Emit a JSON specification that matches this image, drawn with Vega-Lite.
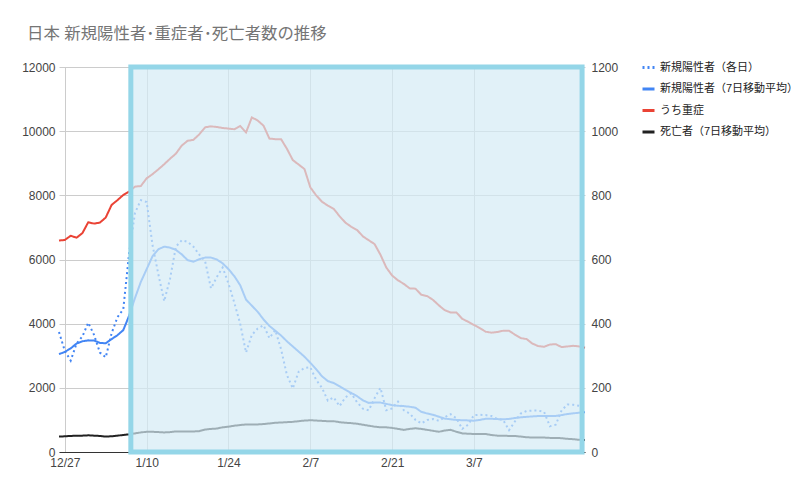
{
  "$schema": "https://vega.github.io/schema/vega-lite/v6.json",
  "width": 526,
  "height": 385,
  "autosize": {"type": "none"},
  "padding": {"left": 59, "top": 67, "right": 215, "bottom": 42},
  "background": "white",
  "title": {"text": "日本 新規陽性者･重症者･死亡者数の推移", "anchor": "start", "frame": "group", "dx": -32, "offset": 18, "fontSize": 16.4, "fontWeight": "normal", "color": "#757575"},
  "datasets": {
    "main": [
      {"date":"2020/12/26","daily":3740,"avg":3050,"severe":659,"deaths":48},
      {"date":"2020/12/27","daily":3150,"avg":3120,"severe":661,"deaths":49},
      {"date":"2020/12/28","daily":2850,"avg":3230,"severe":674,"deaths":50},
      {"date":"2020/12/29","daily":3380,"avg":3380,"severe":668,"deaths":51},
      {"date":"2020/12/30","daily":3600,"avg":3450,"severe":682,"deaths":51},
      {"date":"2020/12/31","daily":4030,"avg":3480,"severe":716,"deaths":52},
      {"date":"2021/01/01","daily":3650,"avg":3475,"severe":712,"deaths":51},
      {"date":"2021/01/02","daily":3100,"avg":3400,"severe":715,"deaths":50},
      {"date":"2021/01/03","daily":2950,"avg":3390,"severe":731,"deaths":48},
      {"date":"2021/01/04","daily":3700,"avg":3520,"severe":770,"deaths":49},
      {"date":"2021/01/05","daily":4200,"avg":3640,"severe":785,"deaths":51},
      {"date":"2021/01/06","daily":4450,"avg":3800,"severe":801,"deaths":53},
      {"date":"2021/01/07","daily":6200,"avg":4250,"severe":812,"deaths":55},
      {"date":"2021/01/08","daily":7450,"avg":4800,"severe":827,"deaths":58},
      {"date":"2021/01/09","daily":7850,"avg":5300,"severe":829,"deaths":61},
      {"date":"2021/01/10","daily":7790,"avg":5700,"severe":853,"deaths":63},
      {"date":"2021/01/11","daily":6450,"avg":6100,"severe":866,"deaths":63},
      {"date":"2021/01/12","daily":5540,"avg":6320,"severe":881,"deaths":62},
      {"date":"2021/01/13","daily":4700,"avg":6400,"severe":897,"deaths":61},
      {"date":"2021/01/14","daily":5400,"avg":6370,"severe":914,"deaths":62},
      {"date":"2021/01/15","daily":6400,"avg":6300,"severe":930,"deaths":64},
      {"date":"2021/01/16","daily":6600,"avg":6160,"severe":955,"deaths":64},
      {"date":"2021/01/17","daily":6550,"avg":5980,"severe":970,"deaths":64},
      {"date":"2021/01/18","daily":6400,"avg":5930,"severe":973,"deaths":64},
      {"date":"2021/01/19","daily":6150,"avg":6010,"severe":990,"deaths":65},
      {"date":"2021/01/20","daily":5950,"avg":6060,"severe":1012,"deaths":70},
      {"date":"2021/01/21","daily":5100,"avg":6060,"severe":1015,"deaths":72},
      {"date":"2021/01/22","daily":5450,"avg":6000,"severe":1013,"deaths":73},
      {"date":"2021/01/23","daily":5750,"avg":5880,"severe":1010,"deaths":77},
      {"date":"2021/01/24","daily":5250,"avg":5700,"severe":1008,"deaths":79},
      {"date":"2021/01/25","daily":4650,"avg":5480,"severe":1006,"deaths":82},
      {"date":"2021/01/26","daily":4000,"avg":5200,"severe":1016,"deaths":84},
      {"date":"2021/01/27","daily":3100,"avg":4750,"severe":996,"deaths":86},
      {"date":"2021/01/28","daily":3650,"avg":4560,"severe":1043,"deaths":86},
      {"date":"2021/01/29","daily":3850,"avg":4370,"severe":1033,"deaths":86},
      {"date":"2021/01/30","daily":3950,"avg":4130,"severe":1017,"deaths":87},
      {"date":"2021/01/31","daily":3550,"avg":3930,"severe":977,"deaths":89},
      {"date":"2021/02/01","daily":3800,"avg":3780,"severe":975,"deaths":91},
      {"date":"2021/02/02","daily":3200,"avg":3630,"severe":975,"deaths":92},
      {"date":"2021/02/03","daily":2400,"avg":3450,"severe":945,"deaths":93},
      {"date":"2021/02/04","daily":1980,"avg":3290,"severe":910,"deaths":94},
      {"date":"2021/02/05","daily":2500,"avg":3130,"severe":896,"deaths":96},
      {"date":"2021/02/06","daily":2620,"avg":2970,"severe":882,"deaths":98},
      {"date":"2021/02/07","daily":2640,"avg":2780,"severe":825,"deaths":99},
      {"date":"2021/02/08","daily":2250,"avg":2580,"severe":800,"deaths":98},
      {"date":"2021/02/09","daily":2000,"avg":2360,"severe":780,"deaths":97},
      {"date":"2021/02/10","daily":1600,"avg":2210,"severe":768,"deaths":96},
      {"date":"2021/02/11","daily":1700,"avg":2150,"severe":758,"deaths":96},
      {"date":"2021/02/12","daily":1430,"avg":2050,"severe":735,"deaths":93},
      {"date":"2021/02/13","daily":1700,"avg":1940,"severe":715,"deaths":91},
      {"date":"2021/02/14","daily":1830,"avg":1840,"severe":702,"deaths":90},
      {"date":"2021/02/15","daily":1550,"avg":1740,"severe":692,"deaths":88},
      {"date":"2021/02/16","daily":1350,"avg":1610,"severe":672,"deaths":85},
      {"date":"2021/02/17","daily":1300,"avg":1530,"severe":660,"deaths":82},
      {"date":"2021/02/18","daily":1680,"avg":1540,"severe":648,"deaths":79},
      {"date":"2021/02/19","daily":2000,"avg":1540,"severe":615,"deaths":77},
      {"date":"2021/02/20","daily":1300,"avg":1500,"severe":575,"deaths":77},
      {"date":"2021/02/21","daily":1360,"avg":1460,"severe":550,"deaths":75},
      {"date":"2021/02/22","daily":1570,"avg":1440,"severe":535,"deaths":72},
      {"date":"2021/02/23","daily":1300,"avg":1430,"severe":524,"deaths":69},
      {"date":"2021/02/24","daily":1200,"avg":1410,"severe":510,"deaths":72},
      {"date":"2021/02/25","daily":1000,"avg":1380,"severe":509,"deaths":74},
      {"date":"2021/02/26","daily":890,"avg":1250,"severe":490,"deaths":72},
      {"date":"2021/02/27","daily":1000,"avg":1200,"severe":486,"deaths":69},
      {"date":"2021/02/28","daily":1030,"avg":1160,"severe":474,"deaths":66},
      {"date":"2021/03/01","daily":970,"avg":1100,"severe":457,"deaths":63},
      {"date":"2021/03/02","daily":1080,"avg":1040,"severe":442,"deaths":67},
      {"date":"2021/03/03","daily":1180,"avg":1020,"severe":435,"deaths":69},
      {"date":"2021/03/04","daily":1050,"avg":1000,"severe":435,"deaths":63},
      {"date":"2021/03/05","daily":720,"avg":990,"severe":415,"deaths":58},
      {"date":"2021/03/06","daily":850,"avg":985,"severe":406,"deaths":57},
      {"date":"2021/03/07","daily":1150,"avg":975,"severe":396,"deaths":56},
      {"date":"2021/03/08","daily":1160,"avg":1000,"severe":386,"deaths":56},
      {"date":"2021/03/09","daily":1150,"avg":1035,"severe":375,"deaths":56},
      {"date":"2021/03/10","daily":1120,"avg":1035,"severe":372,"deaths":53},
      {"date":"2021/03/11","daily":1030,"avg":1025,"severe":374,"deaths":51},
      {"date":"2021/03/12","daily":1000,"avg":1020,"severe":378,"deaths":51},
      {"date":"2021/03/13","daily":680,"avg":1030,"severe":378,"deaths":50},
      {"date":"2021/03/14","daily":950,"avg":1060,"severe":366,"deaths":50},
      {"date":"2021/03/15","daily":1200,"avg":1080,"severe":355,"deaths":48},
      {"date":"2021/03/16","daily":1280,"avg":1095,"severe":352,"deaths":46},
      {"date":"2021/03/17","daily":1290,"avg":1110,"severe":338,"deaths":45},
      {"date":"2021/03/18","daily":1290,"avg":1120,"severe":330,"deaths":45},
      {"date":"2021/03/19","daily":1250,"avg":1120,"severe":328,"deaths":45},
      {"date":"2021/03/20","daily":800,"avg":1120,"severe":335,"deaths":44},
      {"date":"2021/03/21","daily":850,"avg":1125,"severe":336,"deaths":44},
      {"date":"2021/03/22","daily":1300,"avg":1150,"severe":327,"deaths":43},
      {"date":"2021/03/23","daily":1480,"avg":1185,"severe":329,"deaths":41},
      {"date":"2021/03/24","daily":1470,"avg":1205,"severe":331,"deaths":40},
      {"date":"2021/03/25","daily":1440,"avg":1225,"severe":329,"deaths":38},
      {"date":"2021/03/26","daily":1360,"avg":1240,"severe":325,"deaths":37}
    ],
    "box": [
      {"start": "2021/01/07 07:00", "end": "2021/03/25 12:00", "top": 12000, "bottom": 0}
    ]
  },
  "layer": [
    {
      "data": {"name": "main"},
      "transform": [{"fold": ["daily", "avg"], "as": ["series", "value"]}],
      "mark": {"type": "line", "strokeWidth": 2},
      "encoding": {
        "x": {
          "field": "date", "type": "temporal",
          "scale": {"domain": [{"year": 2020, "month": 12, "date": 26}, {"year": 2021, "month": 3, "date": 26}]},
          "axis": {
            "values": [{"year": 2020, "month": 12, "date": 27}, {"year": 2021, "month": 1, "date": 10}, {"year": 2021, "month": 1, "date": 24}, {"year": 2021, "month": 2, "date": 7}, {"year": 2021, "month": 2, "date": 21}, {"year": 2021, "month": 3, "date": 7}],
            "format": "%-m/%-d", "grid": true, "domainColor": "#333333", "labelPadding": 5, "labelFlush": false
          }
        },
        "y": {
          "field": "value", "type": "quantitative",
          "scale": {"domain": [0, 12000]},
          "axis": {"orient": "left", "values": [0, 2000, 4000, 6000, 8000, 10000, 12000], "format": "d", "grid": true, "domain": false, "labelPadding": 4}
        },
        "color": {
          "field": "series", "type": "nominal",
          "scale": {"domain": ["daily", "avg", "severe", "deaths"], "range": ["#4285f4", "#4285f4", "#ea4335", "#212121"]},
          "legend": {
            "title": null,
            "labelExpr": "datum.label == 'daily' ? '新規陽性者（各日）' : datum.label == 'avg' ? '新規陽性者（7日移動平均）' : datum.label == 'severe' ? 'うち重症' : '死亡者（7日移動平均）'"
          }
        },
        "strokeDash": {
          "field": "series", "type": "nominal",
          "scale": {"domain": ["daily", "avg", "severe", "deaths"], "range": [[2, 3], [1, 0], [1, 0], [1, 0]]},
          "legend": {
            "title": null,
            "labelExpr": "datum.label == 'daily' ? '新規陽性者（各日）' : datum.label == 'avg' ? '新規陽性者（7日移動平均）' : datum.label == 'severe' ? 'うち重症' : '死亡者（7日移動平均）'"
          }
        }
      }
    },
    {
      "data": {"name": "main"},
      "transform": [{"fold": ["severe", "deaths"], "as": ["series", "value"]}],
      "mark": {"type": "line", "strokeWidth": 2},
      "encoding": {
        "x": {"field": "date", "type": "temporal"},
        "y": {
          "field": "value", "type": "quantitative",
          "scale": {"domain": [0, 1200]},
          "axis": {"orient": "right", "values": [0, 200, 400, 600, 800, 1000, 1200], "format": "d", "grid": false, "domain": false, "labelPadding": 6}
        },
        "color": {"field": "series", "type": "nominal"},
        "strokeDash": {"field": "series", "type": "nominal"}
      }
    },
    {
      "data": {"name": "box"},
      "mark": {"type": "rect", "fill": "#d4ebf5", "fillOpacity": 0.7, "stroke": "#94d6e8", "strokeWidth": 5},
      "encoding": {
        "x": {"field": "start", "type": "temporal"},
        "x2": {"field": "end"},
        "y": {"field": "top", "type": "quantitative", "scale": {"domain": [0, 12000]}, "axis": null},
        "y2": {"field": "bottom"}
      }
    }
  ],
  "resolve": {"scale": {"y": "independent"}},
  "config": {
    "font": "Liberation Sans, Noto Sans CJK JP",
    "view": {"stroke": null},
    "axis": {"labelFontSize": 12, "labelColor": "#444444", "ticks": false, "title": null, "gridColor": "#cccccc", "gridWidth": 1},
    "legend": {
      "orient": "none", "legendX": 582, "legendY": -7,
      "symbolType": "stroke", "symbolSize": 144, "symbolStrokeWidth": 3,
      "labelFontSize": 11, "labelColor": "#222222", "labelOffset": 4, "labelLimit": 300,
      "rowPadding": 7.5
    }
  }
}
